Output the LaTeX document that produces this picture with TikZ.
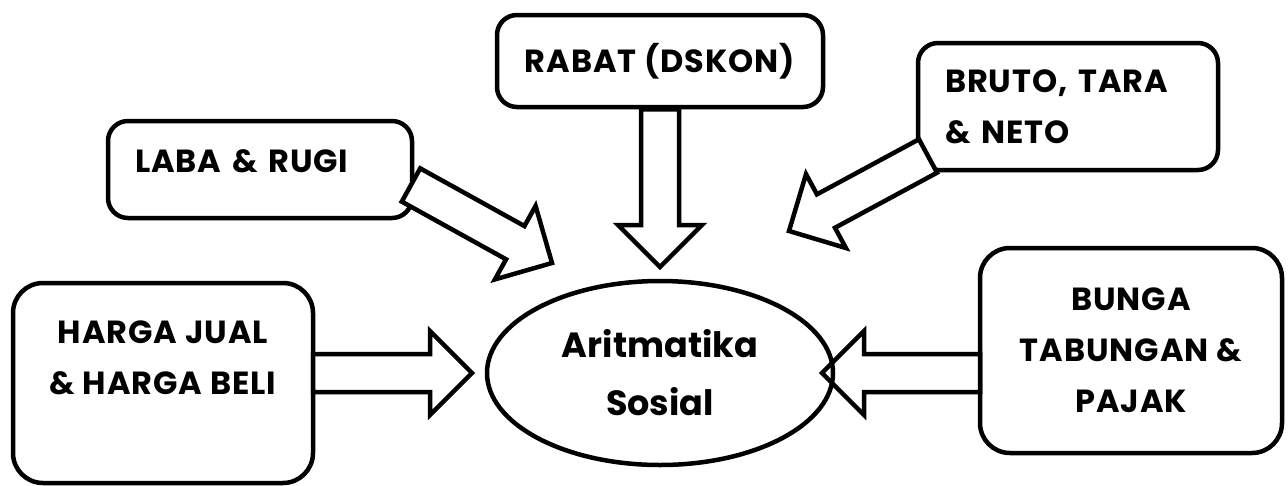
\documentclass[tikz,border=0pt]{standalone}
\usepackage{fontspec}
\setmainfont{Poppins}
\usetikzlibrary{calc,shapes.geometric}
\newcommand\bxfont{\fontsize{32}{51}\selectfont\bfseries\addfontfeatures{LetterSpace=3}}
\newcommand\elfont{\fontsize{35}{58}\selectfont\bfseries}
\tikzset{
  box/.style={draw, line width=4.5pt, rounded corners=20pt, inner sep=0pt, font=\bxfont},
  bigbox/.style={box, rounded corners=30pt},
  blockarrow/.style={draw, line width=4.5pt, fill=white, line join=miter,
    to path={
      ($(\tikztostart)!19pt!90:(\tikztotarget)$) --
      ($(\tikztotarget)!42pt!(\tikztostart)!19pt!-90:(\tikztostart)$) --
      ($(\tikztotarget)!42pt!(\tikztostart)!42pt!-90:(\tikztostart)$) --
      (\tikztotarget) --
      ($(\tikztotarget)!42pt!(\tikztostart)!42pt!90:(\tikztostart)$) --
      ($(\tikztotarget)!42pt!(\tikztostart)!19pt!90:(\tikztostart)$) --
      ($(\tikztostart)!19pt!-90:(\tikztotarget)$) -- cycle}},
}
\begin{document}
\begin{tikzpicture}[x=1pt,y=-1pt]
\useasboundingbox (0,0) rectangle (1288,485);
% boxes
\node[box, minimum width=304pt, minimum height=97pt, text width=250pt, align=left,
      text height=23pt, text depth=17pt] (laba) at (260,169.5) {LABA \& RUGI};
\node[box, minimum width=326pt, minimum height=92pt] (rabat) at (660,61) {RABAT (DSKON)};
\node[box, minimum width=300pt, minimum height=127pt, text width=246pt, align=left]
      (bruto) at (1068,106.5) {BRUTO, TARA\\\& NETO};
\node[bigbox, minimum width=300pt, minimum height=200pt, align=center]
      (harga) at (163,383) {HARGA JUAL\\\& HARGA BELI\\\mbox{}};
\node[bigbox, minimum width=302pt, minimum height=205pt, align=center]
      (bunga) at (1131,350.5) {BUNGA\\TABUNGAN \&\\PAJAK};
% arrow end points
\coordinate (labaout) at (411,185);
\coordinate (labain) at (552,263);
\coordinate (rabatin) at (660,267);
\coordinate (brutoout) at (928,156);
\coordinate (brutoin) at (789,231);
\coordinate (hargaout) at (313,373);
\coordinate (hargain) at (472,373);
\coordinate (bungaout) at (980,373);
\coordinate (bungain) at (822,373);
% arrows
\draw[blockarrow] (labaout) to (labain);
\draw[blockarrow] (rabat.south) to (rabatin);
\draw[blockarrow] (brutoout) to (brutoin);
\draw[blockarrow] (hargaout) to (hargain);
\draw[blockarrow] (bungaout) to (bungain);
% centre
\node[ellipse, draw, line width=4.5pt, inner sep=0pt, minimum width=346pt, minimum height=184pt,
      align=center, font=\elfont] (arit) at (660,373) {Aritmatika\\Sosial};
\end{tikzpicture}
\end{document}
